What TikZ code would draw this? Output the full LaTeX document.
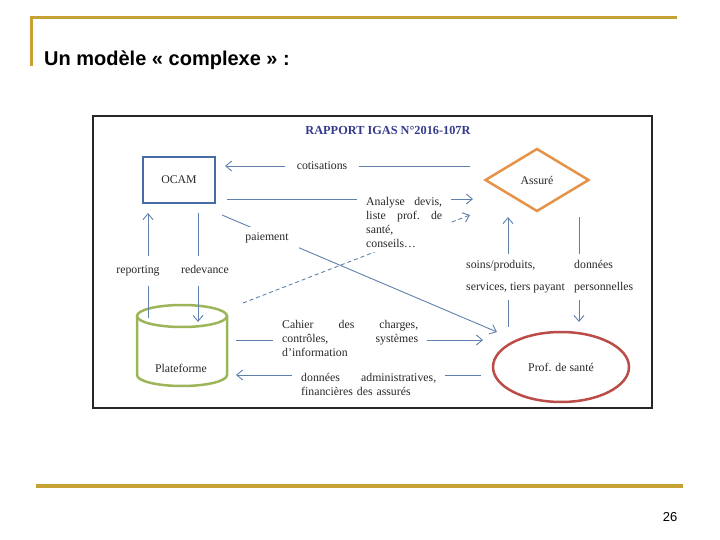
\documentclass[tikz,border=0pt]{standalone}
\usepackage{fontspec}
\setmainfont{Liberation Serif}
\setsansfont{Liberation Sans}
\usetikzlibrary{arrows.meta,shapes.geometric}
\definecolor{gold}{RGB}{198,162,52}
\definecolor{lnblue}{RGB}{96,128,172}
\definecolor{ocamblue}{RGB}{72,108,166}
\definecolor{orangeA}{RGB}{230,146,72}
\definecolor{greenP}{RGB}{156,181,88}
\definecolor{redP}{RGB}{188,76,72}
\definecolor{navy}{RGB}{52,58,140}
\definecolor{txt}{RGB}{40,40,40}
\newcommand{\dfont}{\fontsize{11.8}{14}\selectfont}
\begin{document}
\begin{tikzpicture}[x=1pt,y=-1pt,
  conn/.style={draw=lnblue, line width=0.9pt, -{Straight Barb[length=6pt,width=10pt]}},
  lbl/.style={fill=white, font=\dfont, text=txt, inner xsep=3pt, inner ysep=6pt, text height=8pt, text depth=2.5pt},
  block/.style={fill=white, font=\dfont, text=txt, align=left, inner xsep=9pt, inner ysep=4pt, anchor=north west},
  goldline/.style={draw=gold, line width=3pt}]
\useasboundingbox (0,0) rectangle (720,540);

% slide decoration
\draw[goldline] (30,18) -- (677,18);
\draw[goldline] (31.5,17) -- (31.5,66);
\draw[goldline, line width=3.5pt] (36,486) -- (683,486);
\node[anchor=base west, inner sep=0, font=\sffamily\bfseries\fontsize{20}{20}\selectfont] (title) at (44,66) {Un modèle « complexe » :};
\node[anchor=base, inner sep=0, font=\sffamily\fontsize{13}{13}\selectfont] (page) at (670,521) {26};

% picture frame
\draw[line width=1.1pt, black!85] (93,116) rectangle (652,408);
\node[font=\bfseries\fontsize{12.3}{13}\selectfont, text=navy] (rapport) at (388,130) {RAPPORT IGAS N°2016-107R};

% main shapes
\node[draw=ocamblue, line width=2.2pt, minimum width=72, minimum height=46, font=\dfont, text=txt] (ocam) at (179,180) {OCAM};
\node[diamond, aspect=1.65, draw=orangeA, line width=2.5pt, minimum width=104, minimum height=63, inner sep=0, font=\dfont, text=txt] (assure) at (537,180) {Assuré};
\node[ellipse, draw=redP, line width=2.5pt, minimum width=136, minimum height=70, font=\dfont, text=txt] (prof) at (561,367) {Prof. de santé};
\draw[greenP, line width=2.5pt] (137,316) -- (137,375) arc[start angle=180, end angle=360, x radius=45pt, y radius=11pt] -- (227,316);
\draw[greenP, line width=2.5pt] (182,316) ellipse[x radius=45pt, y radius=11pt];
\node[font=\dfont, text=txt] (plat) at (181,368) {Plateforme};

% connector end points
\coordinate (cotA) at (470,166); \coordinate (cotB) at (225,166);
\coordinate (anA) at (227,199);  \coordinate (anB) at (473,199);
\coordinate (dA) at (243,303);   \coordinate (dB) at (470,215);
\coordinate (paA) at (222,215);  \coordinate (paB) at (497,332);
\coordinate (repA) at (148,318); \coordinate (repB) at (148,213);
\coordinate (redA) at (198,213); \coordinate (redB) at (198,322);
\coordinate (chA) at (236,340);  \coordinate (chB) at (483,340);
\coordinate (daA) at (481,375);  \coordinate (daB) at (236,375);
\coordinate (soA) at (508,327);  \coordinate (soB) at (508,217);
\coordinate (doA) at (579,217);  \coordinate (doB) at (579,322);

% connectors
\draw[conn] (cotA) -- (cotB);
\draw[conn] (anA) -- (anB);
\draw[conn, dash pattern=on 4pt off 3pt] (dA) -- (dB);
\draw[conn] (paA) -- (paB);
\draw[conn] (repA) -- (repB);
\draw[conn] (redA) -- (redB);
\draw[conn] (chA) -- (chB);
\draw[conn] (daA) -- (daB);
\draw[conn] (soA) -- (soB);
\draw[conn] (doA) -- (doB);

% labels
\node[lbl, inner xsep=12pt] (lcot) at (322,167) {cotisations};
\node[block, text width=76pt] (lan) at (357,193)
  {Analyse\hfill devis,\\ liste\hfill prof.\hfill de\\ santé,\\ conseils…};
\node[lbl, inner xsep=10pt] (lpai) at (267,238) {paiement};
\node[lbl, inner ysep=10pt] (lrep) at (138,271) {reporting};
\node[lbl, inner ysep=10pt] (lred) at (205,271) {redevance};
\node[block, text width=136pt] (lch) at (273,316)
  {Cahier\hfill des\hfill charges,\\ contrôles,\hfill systèmes\\ d’information};
\node[block, text width=135pt] (lda) at (292,369)
  {données\hfill administratives,\\ financières des assurés};
\node[lbl, anchor=west, inner ysep=7pt] (lso1) at (463,266) {soins/produits,};
\node[lbl, anchor=west, inner ysep=7pt] (lso2) at (463,288) {services, tiers payant};
\node[lbl, anchor=west, inner ysep=7pt] (ldo1) at (571,266) {données};
\node[lbl, anchor=west, inner ysep=7pt] (ldo2) at (571,288) {personnelles};
\end{tikzpicture}
\end{document}
